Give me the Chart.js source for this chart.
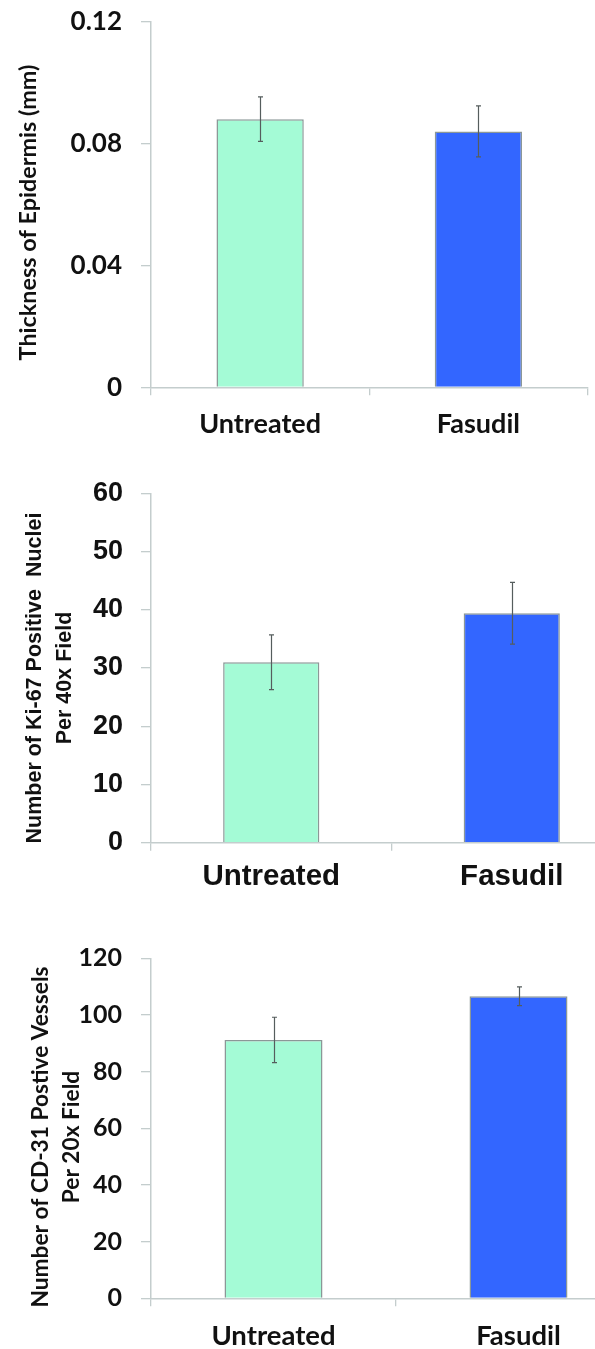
<!DOCTYPE html>
<html>
<head>
<meta charset="utf-8">
<script src="https://cdn.jsdelivr.net/npm/chart.js@4.4.1/dist/chart.umd.min.js"></script>
<style>
  html, body { margin: 0; padding: 0; background: #ffffff; }
  #page { position: relative; width: 595px; height: 1349px; overflow: hidden; background: #ffffff; }
  #page canvas { position: absolute; left: 0; }
</style>
</head>
<body>
<div id="page">
  <canvas id="thickness" width="595" height="450" style="top:0px;width:595px;height:450px;"></canvas>
  <canvas id="ki67" width="660" height="450" style="top:450px;width:660px;height:450px;"></canvas>
  <canvas id="cd31" width="660" height="449" style="top:900px;width:660px;height:449px;"></canvas>
</div>
<script>
// Treatment groups shared by all three panels
const groups = ['Untreated', 'Fasudil'];

// Epidermal thickness (mm): mean and error
const thicknessMean = [0.088, 0.084];
const thicknessErr = [0.0073, 0.0084];
const thicknessTicks = [0, 0.04, 0.08, 0.12];

// Ki-67 positive nuclei per 40x field
const ki67Mean = [31.0, 39.4];
const ki67Err = [4.7, 5.3];
const ki67Ticks = [0, 10, 20, 30, 40, 50, 60];

// CD-31 positive vessels per 20x field
const cd31Mean = [91.2, 106.6];
const cd31Err = [8.0, 3.3];
const cd31Ticks = [0, 20, 40, 60, 80, 100, 120];

const barFill = ['#a4fbd6', '#3366ff'];
const barEdge = '#8b9797';
const axisColor = '#c4cdcd';
const textColor = '#111111';

// Vertical error bars with small caps, centred on each bar
const errorBars = {
  id: 'errorBars',
  afterDatasetsDraw(chart, args, opts) {
    const ctx = chart.ctx;
    const ds = chart.data.datasets[0];
    const yScale = chart.scales.y;
    const meta = chart.getDatasetMeta(0);
    ctx.save();
    ctx.strokeStyle = opts.color;
    ctx.lineWidth = opts.width;
    meta.data.forEach((bar, i) => {
      const v = ds.data[i];
      const e = ds.errors[i];
      const x = Math.round(bar.x) + 0.5;
      const yTop = yScale.getPixelForValue(v + e);
      const yBot = yScale.getPixelForValue(v - e);
      ctx.beginPath();
      ctx.moveTo(x, yTop); ctx.lineTo(x, yBot);
      ctx.moveTo(x - opts.cap, yTop); ctx.lineTo(x + opts.cap, yTop);
      ctx.moveTo(x - opts.cap, yBot); ctx.lineTo(x + opts.cap, yBot);
      ctx.stroke();
    });
    ctx.restore();
  }
};

// Rotated value-axis caption (one or two lines)
const sideTitle = {
  id: 'sideTitle',
  afterDraw(chart, args, o) {
    const ctx = chart.ctx;
    ctx.save();
    ctx.font = `${o.weight} ${o.size}px ${o.family}`;
    ctx.fillStyle = textColor;
    ctx.textAlign = 'center';
    ctx.textBaseline = 'middle';
    o.lines.forEach((line, i) => {
      ctx.save();
      ctx.translate(o.x[i], o.y);
      ctx.rotate(-Math.PI / 2);
      ctx.fillText(line, 0, 0);
      ctx.restore();
    });
    ctx.restore();
  }
};

function makePanel(id, c) {
  const tickFont = { family: c.family, size: c.tickSize, weight: 'bold' };
  const catFont = { family: c.family, size: c.catSize, weight: 'bold' };
  return new Chart(document.getElementById(id), {
    type: 'bar',
    data: {
      labels: groups,
      datasets: [{
        data: c.mean,
        errors: c.err,
        backgroundColor: barFill,
        borderColor: barEdge,
        borderWidth: 1.5,
        barPercentage: c.barPct,
        categoryPercentage: 1.0
      }]
    },
    options: {
      responsive: false,
      animation: false,
      devicePixelRatio: 1,
      layout: { padding: { top: c.top, right: c.right, left: 0, bottom: 0 } },
      plugins: {
        legend: { display: false },
        tooltip: { enabled: false },
        errorBars: { color: '#555d5d', width: 1.2, cap: 2.5 },
        sideTitle: c.title
      },
      scales: {
        x: {
          grid: { drawOnChartArea: false, color: axisColor, lineWidth: 1.3, tickLength: 8, offset: true },
          border: { color: axisColor, width: 1.5 },
          ticks: { font: catFont, color: textColor, padding: c.catPad, maxRotation: 0 },
          afterFit: s => { s.height = c.xHeight; }
        },
        y: {
          min: 0,
          max: c.ticks[c.ticks.length - 1],
          grid: { drawOnChartArea: false, color: axisColor, lineWidth: 1.3, tickLength: 10 },
          border: { color: axisColor, width: 1.5 },
          ticks: { font: tickFont, color: textColor, padding: c.tickPad },
          afterBuildTicks: s => { s.ticks = c.ticks.map(v => ({ value: v })); },
          afterFit: s => { s.width = 151; s.paddingTop = 0; s.paddingBottom = 0; }
        }
      }
    },
    plugins: [errorBars, sideTitle]
  });
}

makePanel('thickness', {
  mean: thicknessMean, err: thicknessErr, ticks: thicknessTicks,
  family: 'Lato, "Open Sans", sans-serif', tickSize: 26, catSize: 27,
  top: 21.7, right: 7.5, xHeight: 62.7, barPct: 0.40, catPad: 13, tickPad: 19,
  title: { lines: ['Thickness of Epidermis (mm)'], x: [28.5], y: 212.5,
           size: 23.4, weight: 'bold', family: 'Lato, "Open Sans", sans-serif' }
});

makePanel('ki67', {
  mean: ki67Mean, err: ki67Err, ticks: ki67Ticks,
  family: '"Liberation Sans", Arial, sans-serif', tickSize: 27, catSize: 29.5,
  top: 43.3, right: 28, xHeight: 57.3, barPct: 0.40, catPad: 8, tickPad: 18,
  title: { lines: ['Number of Ki-67 Positive  Nuclei', 'Per 40x Field'], x: [35, 64.6], y: 228,
           size: 21.5, weight: 'bold', family: '"Liberation Sans", Arial, sans-serif' }
});

makePanel('cd31', {
  mean: cd31Mean, err: cd31Err, ticks: cd31Ticks,
  family: 'Lato, "Open Sans", sans-serif', tickSize: 25, catSize: 27.5,
  top: 58.3, right: 19, xHeight: 50.7, barPct: 0.40, catPad: 13, tickPad: 19,
  title: { lines: ['Number of CD-31 Postive Vessels', 'Per 20x Field'], x: [41, 72], y: 237,
           size: 22.7, weight: 'bold', family: 'Lato, "Open Sans", sans-serif' }
});
</script>
</body>
</html>
